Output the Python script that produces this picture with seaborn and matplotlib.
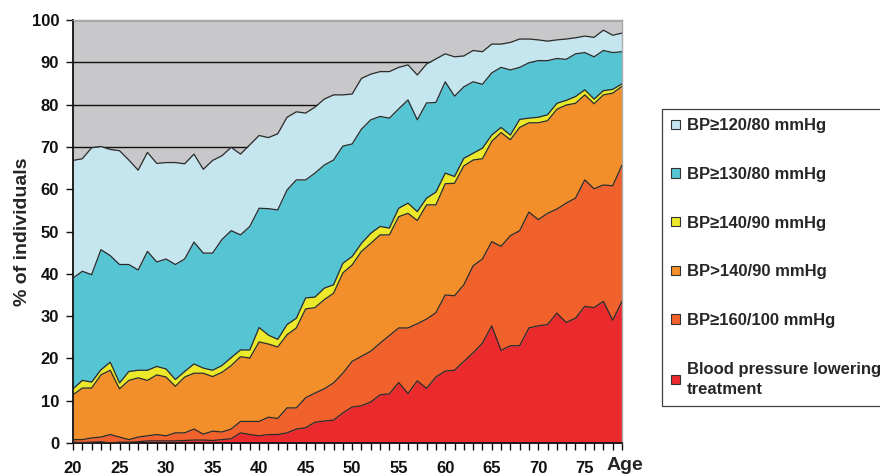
import matplotlib
matplotlib.use("Agg")
import matplotlib.pyplot as plt
import seaborn as sns
from matplotlib.patches import Patch

ages = list(range(20, 80))

# cumulative shares (% of individuals)
bp120 = [66.8, 67.2, 69.8, 70.1, 69.4, 69.1, 66.9, 64.5, 68.7, 66.1,
         66.3, 66.3, 66.0, 68.3, 64.7, 66.8, 67.9, 69.9, 68.3, 70.5,
         72.7, 72.2, 73.1, 77.0, 78.3, 78.0, 79.4, 81.3, 82.3, 82.3,
         82.5, 86.2, 87.2, 87.8, 87.8, 88.8, 89.4, 87.0, 89.6, 90.8,
         92.0, 91.3, 91.5, 92.8, 92.5, 94.3, 94.3, 94.7, 95.5, 95.5,
         95.3, 95.0, 95.3, 95.5, 95.8, 96.2, 95.9, 97.6, 96.4, 96.9]
bp130 = [39.0, 40.6, 39.8, 45.7, 44.3, 42.2, 42.2, 40.9, 45.3, 42.8,
         43.5, 42.2, 43.5, 47.5, 44.9, 44.9, 48.1, 50.2, 49.2, 51.2,
         55.5, 55.4, 55.1, 59.8, 62.2, 62.2, 63.8, 65.7, 66.9, 70.2,
         70.7, 74.2, 76.4, 77.2, 76.8, 79.0, 81.1, 76.4, 80.4, 80.5,
         85.4, 82.0, 84.2, 85.4, 84.8, 87.5, 88.8, 88.2, 88.8, 89.9,
         90.4, 90.4, 90.9, 90.7, 92.0, 92.3, 91.3, 92.8, 92.3, 92.5]
bp140 = [12.8, 14.8, 14.4, 17.3, 19.1, 14.2, 16.9, 17.2, 17.2, 18.1,
         17.5, 15.0, 16.9, 18.7, 17.7, 17.2, 18.3, 20.2, 22.0, 22.0,
         27.3, 25.5, 24.5, 28.0, 29.5, 34.3, 34.5, 36.6, 37.4, 42.5,
         44.1, 47.2, 49.6, 51.2, 50.8, 55.5, 56.7, 54.7, 57.9, 59.3,
         63.8, 63.0, 67.3, 68.5, 69.7, 72.8, 74.6, 72.8, 76.5, 76.8,
         77.0, 77.6, 80.3, 81.0, 81.9, 83.5, 81.3, 83.3, 83.6, 84.9]
bp140gt = [11.4, 13.0, 13.0, 16.1, 17.2, 12.8, 14.8, 15.4, 14.8, 16.1,
           15.6, 13.4, 15.6, 16.5, 16.5, 15.7, 16.7, 18.3, 20.4, 20.1,
           23.9, 23.4, 22.7, 25.6, 27.2, 31.7, 32.0, 33.9, 35.4, 40.2,
           42.1, 45.3, 47.2, 49.2, 49.2, 53.5, 54.3, 52.6, 56.3, 56.3,
           61.3, 61.4, 65.5, 66.9, 67.2, 71.3, 73.4, 71.7, 74.6, 75.7,
           75.7, 76.2, 78.9, 79.9, 80.3, 82.3, 80.2, 82.3, 82.7, 84.3]
bp160 = [0.8, 0.8, 1.2, 1.4, 2.0, 1.4, 0.8, 1.4, 1.7, 2.0,
         1.7, 2.4, 2.4, 3.3, 2.1, 2.8, 2.6, 3.3, 5.1, 5.1,
         5.1, 6.1, 5.8, 8.3, 8.3, 10.7, 11.8, 12.8, 14.2, 16.5,
         19.3, 20.5, 21.7, 23.6, 25.4, 27.2, 27.2, 28.2, 29.3, 30.8,
         35.0, 34.8, 37.4, 41.9, 43.5, 47.6, 46.5, 49.0, 50.2, 54.6,
         52.8, 54.3, 55.3, 56.7, 57.9, 62.2, 60.1, 61.0, 60.8, 65.7]
treated = [0.2, 0.1, 0.2, 0.3, 0.0, 0.2, 0.2, 0.3, 0.5, 0.5,
           0.5, 0.5, 0.6, 0.7, 0.7, 0.6, 0.8, 1.0, 2.4, 2.0,
           1.7, 2.0, 2.0, 2.4, 3.3, 3.6, 4.9, 5.2, 5.4, 7.1,
           8.5, 8.8, 9.7, 11.4, 11.6, 14.3, 11.7, 14.7, 12.9, 15.6,
           17.0, 17.2, 19.3, 21.3, 23.6, 27.7, 21.9, 23.0, 23.0, 27.2,
           27.7, 28.0, 30.7, 28.5, 29.5, 32.3, 32.0, 33.5, 29.0, 33.5]
baseline = [0.0] * len(ages)

labels = ["BP\u2265120/80 mmHg", "BP\u2265130/80 mmHg", "BP\u2265140/90 mmHg",
          "BP>140/90 mmHg", "BP\u2265160/100 mmHg",
          "Blood pressure lowering\ntreatment"]
colors = ["#C5E6EE", "#55C5D4", "#ECE82A", "#F38F2B", "#F0612B", "#EB2A2E"]

sns.set_style("white")
plt.rcParams['font.family'] = ['Liberation Sans', 'DejaVu Sans']
plt.rcParams['font.weight'] = 'bold'

fig = plt.figure(figsize=(8.8, 4.76), dpi=100)
ax = fig.add_axes([73 / 880, 33 / 476, 549 / 880, 423 / 476])
ax.set_facecolor("#C8C8CA")
ax.set_axisbelow(True)
ax.yaxis.grid(True, color="#111111", lw=1.0)
ax.xaxis.grid(False)

bounds = [bp120, bp130, bp140, bp140gt, bp160, treated, baseline]
for i in range(6):
    ax.fill_between(ages, bounds[i + 1], bounds[i], color=colors[i], lw=0, zorder=2)
for b in bounds[:6]:
    sns.lineplot(x=ages, y=b, color="#2b2b2b", lw=0.9, ax=ax, zorder=3)

ax.set_xlim(20, 79)
ax.set_ylim(0, 100)
ax.set_yticks(range(0, 101, 10))
ax.set_xticks(ages)
ax.set_xticklabels([str(a) if a % 5 == 0 else "" for a in ages])
ax.tick_params(axis="x", direction="out", length=5, width=1, pad=8,
               labelsize=12, bottom=True, colors="#111111")
ax.tick_params(axis="y", direction="out", length=5, width=1, pad=5,
               labelsize=12, left=True, colors="#111111")
for lab in ax.get_xticklabels() + ax.get_yticklabels():
    lab.set_fontweight("bold")
for s in ["left", "bottom"]:
    ax.spines[s].set_color("#111111")
    ax.spines[s].set_linewidth(1.3)
for s in ["top", "right"]:
    ax.spines[s].set_color("#AAAAAA")
    ax.spines[s].set_linewidth(1.0)

ax.set_xlabel("")
ax.set_ylabel("% of individuals", fontsize=14, fontweight="bold")
ax.yaxis.set_label_coords(-0.077, 0.5)
fig.text(625 / 880, 1 - 466 / 476, "Age", fontsize=14, fontweight="bold",
         ha="center", va="center")

handles = [Patch(facecolor=c, edgecolor="#333333", lw=0.8) for c in colors]
leg = fig.legend(handles, labels, loc="upper left",
                 bbox_to_anchor=(662 / 880, 1 - 109 / 476), borderaxespad=0,
                 frameon=True, fancybox=False, edgecolor="#111111",
                 prop={"weight": "bold", "size": 12},
                 handlelength=0.5, handleheight=0.5, handletextpad=0.45,
                 labelspacing=2.02, borderpad=0.55)
leg.get_frame().set_linewidth(0.9)
leg.get_texts()[-1].set_linespacing(1.45)

fig.savefig("out.png", dpi=100)
